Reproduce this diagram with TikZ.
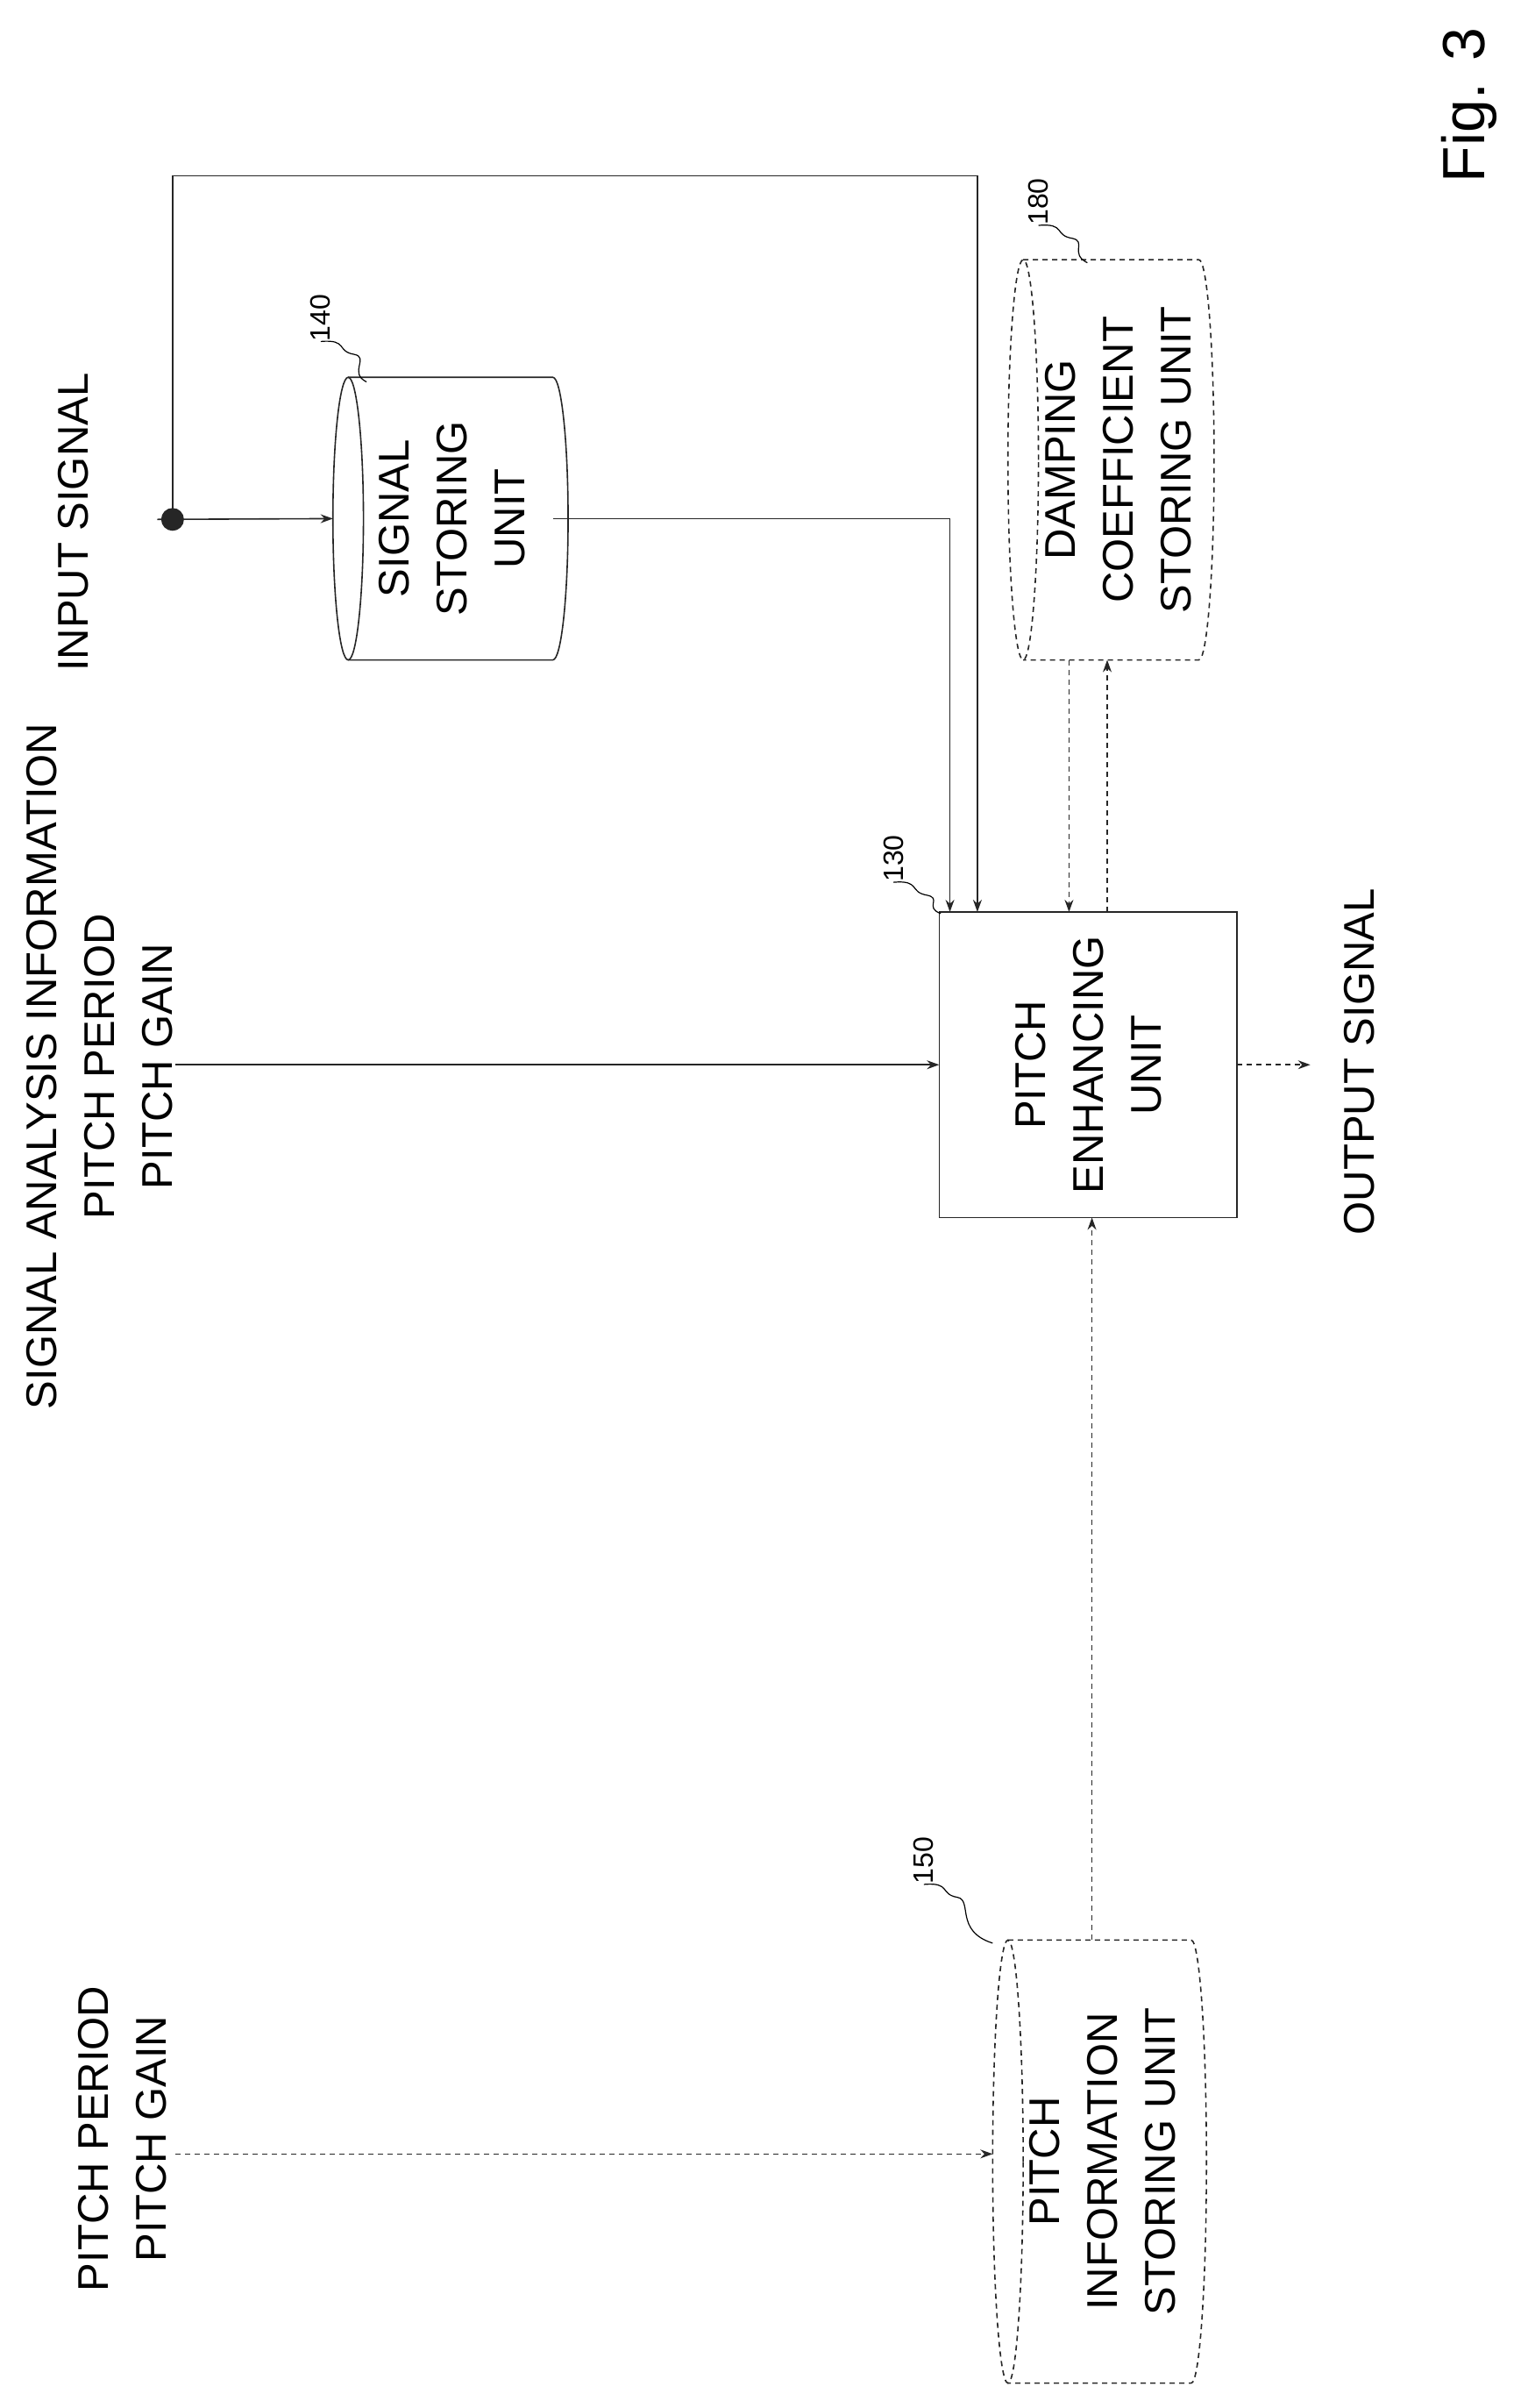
\documentclass[tikz,border=0pt]{standalone}
\usepackage{fontspec}
\setmainfont{Liberation Sans}
\usetikzlibrary{arrows.meta}
\begin{document}
\begin{tikzpicture}[x=0.871pt,y=-0.871pt,
  ln/.style={line width=0.8pt,draw=black!85},
  dl/.style={ln,dash pattern=on 3pt off 2.5pt},
  arr/.style={-{Stealth[length=7pt,width=5pt]}},
  geo/.style={draw=none,inner sep=0pt,outer sep=0pt},
  rt/.style={rotate=90,align=center,font=\fontsize{24.5}{33}\selectfont,inner sep=0pt},
  num/.style={rotate=90,font=\fontsize{16}{18}\selectfont,inner sep=0pt},
  sq/.style={line width=0.6pt}]
\useasboundingbox (0,0) rectangle (1000,1576.3);
% Pitch enhancing unit
\node[geo,draw,ln,minimum width=195*0.871pt,minimum height=200*0.871pt] (pe) at (712.5,697) {};
\node[rt] (pet) at (pe) {PITCH\\ENHANCING\\UNIT};
% Signal storing unit
\node[geo,minimum width=144*0.871pt,minimum height=185*0.871pt] (ss) at (290,339.5) {};
\draw[ln] ([xshift=8.7pt]ss.north west) -- (ss.north east) arc[start angle=90,end angle=-90,x radius=8.7pt,y radius=80.57pt] -- ([xshift=8.7pt]ss.south west);
\draw[ln] ([xshift=8.7pt]ss.west) ellipse[x radius=8.7pt,y radius=80.57pt];
\node[rt] (sst) at (296,339.5) {SIGNAL\\STORING\\UNIT};
% Damping coefficient storing unit
\node[geo,minimum width=125*0.871pt,minimum height=262*0.871pt] (dc) at (722.5,301) {};
\draw[dl] ([xshift=8.7pt]dc.north west) -- (dc.north east) arc[start angle=90,end angle=-90,x radius=8.7pt,y radius=114.1pt] -- ([xshift=8.7pt]dc.south west);
\draw[dl] ([xshift=8.7pt]dc.west) ellipse[x radius=8.7pt,y radius=114.1pt];
\node[rt] (dct) at (732,301) {DAMPING\\COEFFICIENT\\STORING UNIT};
% Pitch information storing unit
\node[geo,minimum width=130*0.871pt,minimum height=290*0.871pt] (pi) at (715,1415) {};
\draw[dl] ([xshift=8.7pt]pi.north west) -- (pi.north east) arc[start angle=90,end angle=-90,x radius=8.7pt,y radius=126.3pt] -- ([xshift=8.7pt]pi.south west);
\draw[dl] ([xshift=8.7pt]pi.west) ellipse[x radius=8.7pt,y radius=126.3pt];
\node[rt] (pit) at (722,1415) {PITCH\\INFORMATION\\STORING UNIT};
% Outer texts
\node[rt] (in) at (48,342) {INPUT SIGNAL};
\node[rt] (sa) at (65,698) {SIGNAL ANALYSIS INFORMATION\\PITCH PERIOD\\PITCH GAIN};
\node[rt] (out) at (890,695) {OUTPUT SIGNAL};
\node[rt] (pp) at (80,1400) {PITCH PERIOD\\PITCH GAIN};
\node[rotate=90,font=\fontsize{34}{40}\selectfont,inner sep=0pt] (fig) at (962,69) {Fig. 3};
% numbers
\node[num] (n140) at (210,208) {140};
\node[num] (n180) at (680,132) {180};
\node[num] (n130) at (585,562) {130};
\node[num] (n150) at (605,1218) {150};
\draw[sq] (n140.west) .. controls (228,222) and (220,230) .. (232,232) .. controls (242,234) and (228,244) .. (240,250);
\draw[sq] (n180.west) .. controls (698,146) and (690,154) .. (702,156) .. controls (712,158) and (700,166) .. (712,172);
\draw[sq] (n130.west) .. controls (603,576) and (595,584) .. (607,586) .. controls (617,588) and (605,594) .. (616,598);
\draw[sq] (n150.west) .. controls (623,1232) and (615,1240) .. (627,1242) .. controls (637,1244) and (625,1264) .. (650,1272);
% connectors
\coordinate (ins) at (103,340);
\node[circle,fill=black!85,inner sep=0pt,minimum size=13pt] (dot) at (113,340) {};
\draw[ln,arr] (ins) -- (ss.west);
\draw[ln,arr] (dot.center) |- (640,115) -- (640,597);
\draw[ln,arr] (ss.east) -| (622,597);
\draw[dl,arr] (700,432) -- (700,597);
\draw[dl,arr] (725,597) -- (725,432);
\draw[ln,arr] (115,697) -- (pe.west);
\draw[dl,arr] (pe.east) -- (858,697);
\draw[dl,arr] (pi.north) -- (pe.south -| pi.north);
\draw[dl,arr] (115,1410) -- (pi.west |- 0,1410);
\end{tikzpicture}
\end{document}
